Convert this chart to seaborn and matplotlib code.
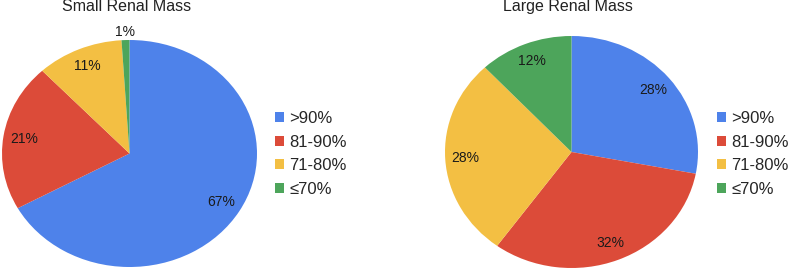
import seaborn as sns
import matplotlib.pyplot as plt

# data
categories = [">90%", "81-90%", "71-80%", "\u226470%"]
small_mass = [67, 21, 11, 1]
large_mass = [28, 32, 28, 12]
titles = ["Small Renal Mass", "Large Renal Mass"]

colors = ["#4E82EA", "#DC4B39", "#F3BF43", "#4DA55B"]

sns.set_theme(style="white")
plt.rcParams["font.family"] = ["Liberation Sans", "DejaVu Sans"]

W, H = 789, 271
fig = plt.figure(figsize=(W / 100, H / 100), dpi=100)


def px_axes(x0, y0, x1, y1):
    return fig.add_axes([x0 / W, 1 - y1 / H, (x1 - x0) / W, (y1 - y0) / H])


ax_left = px_axes(2, 40, 257, 267)
ax_right = px_axes(445, 36, 698, 268)

panels = [
    (ax_left, small_mass, 127, 275),
    (ax_right, large_mass, 568, 717),
]

for (ax, values, title_x, legend_x), title in zip(panels, titles):
    wedges, texts, autotexts = ax.pie(
        values,
        colors=colors,
        startangle=90,
        counterclock=False,
        autopct="%d%%",
        pctdistance=0.84,
        textprops={"fontsize": 10, "color": "#1a1a1a"},
        wedgeprops={"linewidth": 0},
    )
    # small slice label sits just outside the pie
    for val, t in zip(values, autotexts):
        if val < 3:
            x, y = t.get_position()
            t.set_position((x * 1.27, y * 1.27))
    ax.set_aspect("auto")
    ax.set_xlim(-1, 1)
    ax.set_ylim(-1, 1)

    fig.text(title_x / W, 1 - 11 / H, title, ha="center", va="baseline",
             fontsize=11.5, color="#222222")

    fig.legend(
        wedges, categories,
        loc="center left",
        bbox_to_anchor=(legend_x / W, 1 - 154 / H),
        frameon=False,
        fontsize=12,
        handlelength=0.55,
        handleheight=0.55,
        handletextpad=0.3,
        labelspacing=0.52,
        borderpad=0,
        borderaxespad=0,
    )

fig.savefig("out.png", dpi=100)
